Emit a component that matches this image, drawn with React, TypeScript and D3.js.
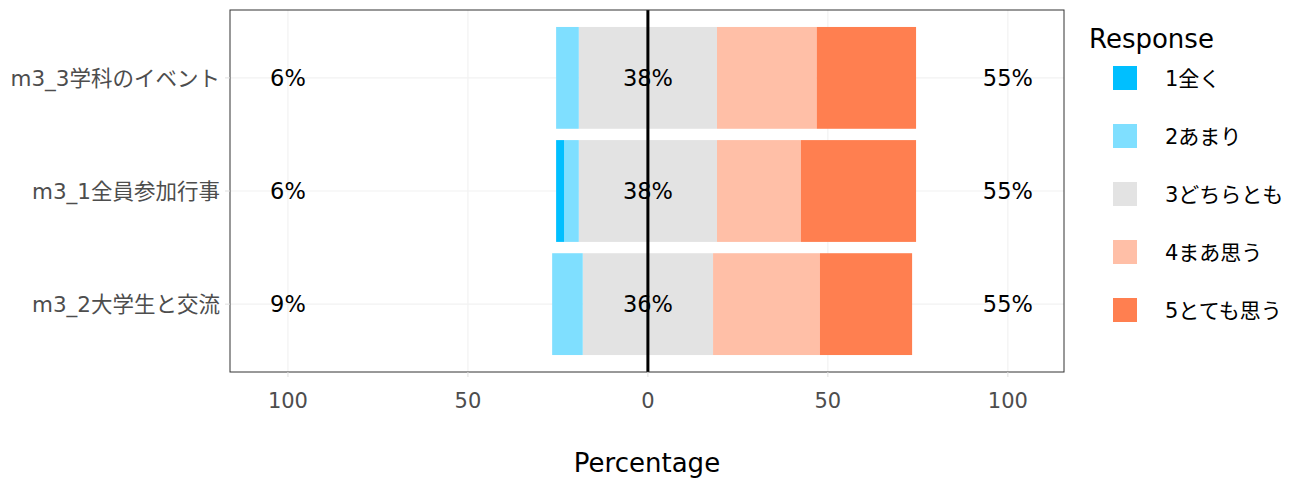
import React from "react";
import * as d3 from "d3";

const categories = ["m3_3学科のイベント", "m3_1全員参加行事", "m3_2大学生と交流"];
const responses = ["1全く", "2あまり", "3どちらとも", "4まあ思う", "5とても思う"];
const colors = ["#00BFFF", "#7FDFFF", "#E3E3E3", "#FFBFA7", "#FF7F50"];
const resp1 = [0, 2.2, 0];
const resp2 = [6.3, 4.1, 8.5];
const resp3 = [38.4, 38.4, 36.2];
const resp4 = [27.7, 23.3, 29.7];
const resp5 = [27.6, 32.0, 25.6];
const xTicks = [-100, -50, 0, 50, 100];

const W = 1297, H = 482;
const panel = { left: 230, right: 1064, top: 10, bottom: 372 };
const FONT = "'DejaVu Sans', 'Noto Sans CJK JP', sans-serif";

export default function App() {
  const x = d3.scaleLinear().domain([-116.1, 115.6]).range([panel.left, panel.right]);
  const step = (panel.bottom - panel.top) / (categories.length - 1 + 1.2);
  const yc = (i: number) => panel.top + step * (0.6 + i);
  const bh = step * 0.9;

  const rows = categories.map((c, i) => {
    const v = [resp1[i], resp2[i], resp3[i], resp4[i], resp5[i]];
    const segs: { x0: number; x1: number; col: string }[] = [];
    const pos = -v[2] / 2;
    segs.push({ x0: pos, x1: 0, col: colors[2] });
    segs.push({ x0: pos - v[1], x1: pos, col: colors[1] });
    segs.push({ x0: pos - v[1] - v[0], x1: pos - v[1], col: colors[0] });
    segs.push({ x0: 0, x1: v[2] / 2, col: colors[2] });
    const p = v[2] / 2;
    segs.push({ x0: p, x1: p + v[3], col: colors[3] });
    segs.push({ x0: p + v[3], x1: p + v[3] + v[4], col: colors[4] });
    return { c, i, v, segs, low: v[0] + v[1], high: v[3] + v[4], neutral: v[2] };
  });

  return (
    <svg width={W} height={H} style={{ display: "block", position: "absolute", left: 0, top: 0 }} fontFamily={FONT}>
      <rect x={0} y={0} width={W} height={H} fill="white" />
      {xTicks.map((t) => (
        <line key={"gx" + t} x1={x(t)} x2={x(t)} y1={panel.top} y2={panel.bottom} stroke="#f2f2f2" strokeWidth={1.2} />
      ))}
      {categories.map((c, i) => (
        <line key={"gy" + i} x1={panel.left} x2={panel.right} y1={yc(i)} y2={yc(i)} stroke="#f2f2f2" strokeWidth={1.2} />
      ))}
      {rows.map((r) =>
        r.segs.map((s, k) =>
          s.x1 - s.x0 > 0 ? (
            <rect key={r.i + "-" + k} x={x(s.x0)} width={x(s.x1) - x(s.x0)} y={yc(r.i) - bh / 2} height={bh} fill={s.col} />
          ) : null
        )
      )}
      {rows.map((r) => (
        <g key={"l" + r.i} fontSize={22.5} fill="#000" textAnchor="middle">
          <text x={x(-100)} y={yc(r.i)} dy="0.36em">{d3.format(".0f")(r.low) + "%"}</text>
          <text x={x(0)} y={yc(r.i)} dy="0.36em">{d3.format(".0f")(r.neutral) + "%"}</text>
          <text x={x(100)} y={yc(r.i)} dy="0.36em">{d3.format(".0f")(r.high) + "%"}</text>
        </g>
      ))}
      <line x1={x(0)} x2={x(0)} y1={panel.top} y2={panel.bottom} stroke="#000" strokeWidth={3} />
      <rect x={panel.left} y={panel.top} width={panel.right - panel.left} height={panel.bottom - panel.top} fill="none" stroke="#333" strokeWidth={1} />
      {xTicks.map((t) => (
        <g key={"xt" + t}>
          <line x1={x(t)} x2={x(t)} y1={panel.bottom} y2={panel.bottom + 5} stroke="#e0e0e0" />
          <text x={x(t)} y={panel.bottom + 36} fontSize={21} fill="#4d4d4d" textAnchor="middle">{Math.abs(t)}</text>
        </g>
      ))}
      <text x={(panel.left + panel.right) / 2} y={472} fontSize={26} fill="#000" textAnchor="middle">Percentage</text>
      {categories.map((c, i) => (
        <g key={"yt" + i}>
          <line x1={panel.left - 5} x2={panel.left} y1={yc(i)} y2={yc(i)} stroke="#e0e0e0" />
          <text x={panel.left - 10} y={yc(i)} dy="0.36em" fontSize={21.5} fill="#4d4d4d" textAnchor="end">{c}</text>
        </g>
      ))}
      <text x={1089} y={48} fontSize={26} fill="#000">Response</text>
      {responses.map((r, k) => (
        <g key={"lg" + k}>
          <rect x={1113} y={66 + k * 58} width={24} height={24} fill={colors[k]} />
          <text x={1165} y={78 + k * 58} dy="0.36em" fontSize={21} fill="#000">{r}</text>
        </g>
      ))}
    </svg>
  );
}
